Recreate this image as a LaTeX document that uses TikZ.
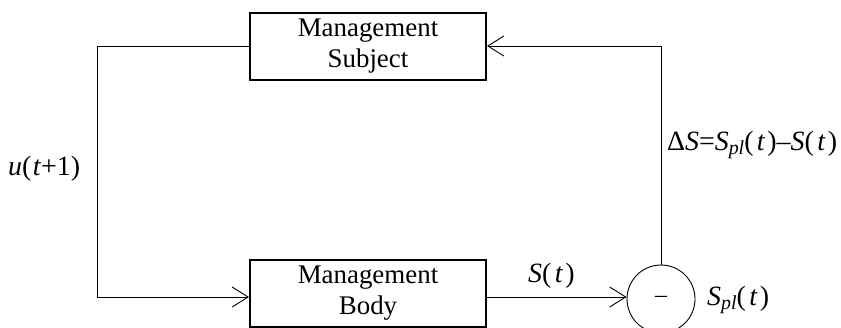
\documentclass[tikz,border=0pt]{standalone}
\usepackage{fontspec}
\setmainfont{Liberation Serif}
\usetikzlibrary{arrows.meta}
\newcommand{\sub}[1]{\raisebox{-0.35ex}{\fontsize{20}{20}\selectfont\textit{#1}}}
\newcommand{\ofvar}[1]{(\hspace{0.12em}\textit{#1}\hspace{0.08em})}
\begin{document}
\begin{tikzpicture}[x=1bp,y=-1bp,
  blockbox/.style={draw,line width=2bp,minimum width=236bp,minimum height=67bp,
    align=center,font=\fontsize{27}{31}\selectfont,inner sep=0pt},
  wire/.style={line width=0.9bp},
  flow/.style={wire,-{Straight Barb[length=16bp,width=20bp,line width=0.9bp]}},
  lbl/.style={font=\fontsize{28}{32}\selectfont,inner sep=0pt}]
  \useasboundingbox (0,0) rectangle (841,327);
  \begin{scope}
    \clip (0,0) rectangle (841,327);
    \node[blockbox] (subj) at (368,46) {Management\\Subject};
    \node[blockbox] (body) at (368,293) {Management\\Body};
    \node[draw,circle,wire,minimum size=68bp,inner sep=0pt] (sum) at (661,299) {};
    \node[font=\fontsize{24}{28}\selectfont] (minus) at (sum.center) {–};
  \end{scope}
  % control signal: subject -> body
  \coordinate (tl) at (97,46);
  \coordinate (bl) at (97,297);
  \draw[flow] (subj.west) -- (tl) -- (bl) -- (body.west |- bl);
  % state S(t) into the comparator
  \coordinate (sy) at (0,297);
  \draw[flow] (body.east |- sy) -- (sum.west |- sy);
  % deviation feedback to subject
  \coordinate (tr) at (sum.north |- subj.east);
  \draw[flow] (sum.north) -- (tr) -- (subj.east);
  % labels
  \node[lbl,anchor=base west] (u) at (8,175) {\textit{u}(\hspace{0.05em}\textit{t}+1)};
  \node[lbl,anchor=base west] (ds) at (667,150) {Δ\textit{S}=\textit{S}\sub{pl}\ofvar{t}–\textit{S}\ofvar{t}};
  \node[lbl,anchor=base west] (st) at (528,282) {\textit{S}\ofvar{t}};
  \node[lbl,anchor=base west] (spl) at (707,305) {\textit{S}\sub{pl}\ofvar{t}};
\end{tikzpicture}
\end{document}
